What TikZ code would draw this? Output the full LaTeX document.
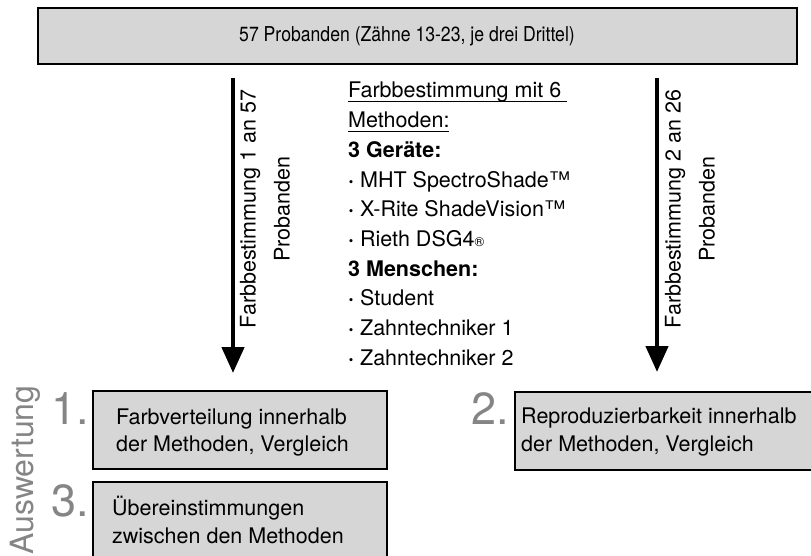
\documentclass[tikz,border=0pt]{standalone}
\usepackage{fontspec}
\setmainfont{TeX Gyre Heros}
\usepackage{graphicx}
\usetikzlibrary{arrows.meta}
\definecolor{boxgray}{HTML}{D6D6D6}
\definecolor{numgray}{HTML}{858585}
\newsavebox{\myulbox}
\newcommand{\myul}[1]{\sbox{\myulbox}{#1}\rlap{\usebox{\myulbox}}\rule[-4.5pt]{\wd\myulbox}{1.3pt}}
\newcommand{\mybul}{\textbf{·}\ }
\tikzset{
  box/.style={draw=black, fill=boxgray, line width=2.2pt, inner sep=0pt},
  txt/.style={inner sep=0pt, anchor=base west, font=\fontsize{21.5}{27}\selectfont},
  listline/.style={inner sep=0pt, anchor=base west, font=\fontsize{21.5}{29.7}\selectfont},
  num/.style={inner sep=0pt, anchor=base east, text=numgray, font=\fontsize{45}{45}\selectfont},
  bigarrow/.style={line width=4.5pt, -{Triangle[width=22pt,length=26pt]}},
  arrowlabel/.style={rotate=90, align=center, inner sep=0pt, font=\fontsize{21.5}{34}\selectfont},
}
\begin{document}
\begin{tikzpicture}[x=1pt,y=-1pt]
\path[use as bounding box, clip] (0,0) rectangle (811,556);
% top box
\node[box, line width=2pt, minimum width=759pt, minimum height=56pt] (top) at (417.5,36) {};
\node[inner sep=0pt, anchor=base west, font=\fontsize{20.5}{20.5}\selectfont] (toptext) at (239,42) {\scalebox{0.86}[1]{57 Probanden (Zähne 13-23, je drei Drittel)}};
% arrows
\coordinate (a1s) at (233,78);
\coordinate (a1e) at (233,373);
\coordinate (a2s) at (657,78);
\coordinate (a2e) at (657,372);
\draw[bigarrow] (a1s) -- (a1e);
\draw[bigarrow] (a2s) -- (a2e);
\node[arrowlabel] (lab1) at (265,209) {Farbbestimmung 1 an 57\\Probanden};
\node[arrowlabel] (lab2) at (690,209) {Farbbestimmung 2 an 26\\Probanden};
% middle list
\node[listline] (l1) at (348,98) {\myul{Farbbestimmung mit 6\ }};
\node[listline] (l2) at (348,127.7) {\myul{Methoden:}};
\node[listline] (l3) at (348,157.4) {\textbf{3 Geräte:}};
\node[listline] (l4) at (348,187.1) {\mybul MHT SpectroShade™};
\node[listline] (l5) at (348,216.8) {\mybul X-Rite ShadeVision™};
\node[listline] (l6) at (348,246.5) {\mybul Rieth DSG4{\fontsize{13}{13}\selectfont ®}};
\node[listline] (l7) at (348,276.2) {\textbf{3 Menschen:}};
\node[listline] (l8) at (348,305.9) {\mybul Student};
\node[listline] (l9) at (348,335.6) {\mybul Zahntechniker 1};
\node[listline] (l10) at (348,365.3) {\mybul Zahntechniker 2};
% bottom boxes
\node[box, minimum width=294pt, minimum height=78pt] (box1) at (240,430) {};
\node[box, minimum width=300pt, minimum height=78pt] (box2) at (665,431) {};
\node[box, minimum width=294pt, minimum height=88pt] (box3) at (240,526) {};
\node[txt] (b1a) at (116,424) {Farbverteilung innerhalb};
\node[txt] (b1b) at (116,451) {der Methoden, Vergleich};
\node[txt] (b2a) at (521,423) {Reproduzierbarkeit innerhalb};
\node[txt] (b2b) at (521,451) {der Methoden, Vergleich};
\node[txt] (b3a) at (112,515) {Übereinstimmungen};
\node[txt] (b3b) at (112,543) {zwischen den Methoden};
% numbers
\node[num] (n1) at (89,424) {1.};
\node[num] (n2) at (509,424) {2.};
\node[num] (n3) at (89,516) {3.};
\node[inner sep=0pt, rotate=90, anchor=base west, text=numgray, font=\fontsize{32}{32}\selectfont] (ausw) at (33,555) {Auswertung};
\end{tikzpicture}
\end{document}
